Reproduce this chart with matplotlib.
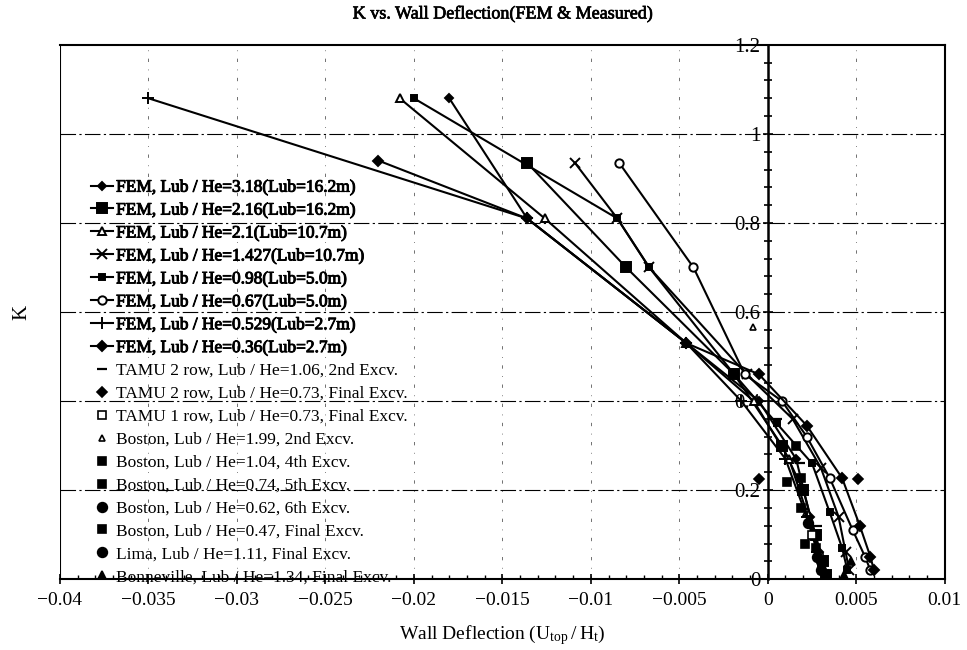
import matplotlib
matplotlib.use("Agg")
import matplotlib.pyplot as plt
import matplotlib.patheffects as pe
from matplotlib.ticker import MultipleLocator, FuncFormatter

plt.rcParams["font.family"] = ["Liberation Serif", "DejaVu Serif"]
plt.rcParams["mathtext.fontset"] = "custom"
plt.rcParams["mathtext.rm"] = "Liberation Serif"

# FEM curves: wall deflection (U_top/H_t) vs K
fem_318_x = [-0.018, -0.0136, -0.0046, -0.0005, 0.0016, 0.0024, 0.0029, 0.0031]
fem_318_k = [1.08, 0.81, 0.53, 0.40, 0.27, 0.14, 0.06, 0.015]
fem_216_x = [-0.0136, -0.008, -0.0019, 0.0008, 0.002, 0.0027, 0.0031, 0.0033]
fem_216_k = [0.935, 0.70, 0.46, 0.30, 0.20, 0.10, 0.04, 0.01]
fem_21_x = [-0.0208, -0.0126, -0.0046, -0.0008, 0.0012, 0.0022, 0.0028, 0.0031]
fem_21_k = [1.08, 0.81, 0.53, 0.40, 0.27, 0.15, 0.07, 0.02]
fem_1427_x = [-0.0109, -0.0085, -0.0067, -0.0012, 0.0014, 0.003, 0.0040, 0.0044, 0.0046]
fem_1427_k = [0.935, 0.81, 0.70, 0.46, 0.36, 0.25, 0.14, 0.06, 0.02]
fem_098_x = [-0.02, -0.0085, -0.0067, -0.0019, 0.0005, 0.0025, 0.0035, 0.0042, 0.0045]
fem_098_k = [1.08, 0.81, 0.70, 0.46, 0.35, 0.26, 0.15, 0.07, 0.02]
fem_067_x = [-0.0084, -0.0042, -0.0013, 0.0008, 0.0022, 0.0035, 0.0048, 0.0055, 0.0058]
fem_067_k = [0.935, 0.70, 0.46, 0.40, 0.32, 0.227, 0.11, 0.05, 0.02]
fem_0529_x = [-0.035, -0.0136, -0.0046, -0.0015, 0.001, 0.0022, 0.0028, 0.0031]
fem_0529_k = [1.08, 0.81, 0.53, 0.40, 0.27, 0.14, 0.06, 0.02]
fem_036_x = [-0.022, -0.0136, -0.0046, -0.0005, 0.0022, 0.0042, 0.0052, 0.0058, 0.006]
fem_036_k = [0.94, 0.81, 0.53, 0.46, 0.345, 0.227, 0.12, 0.05, 0.02]

fem_x = [fem_318_x, fem_216_x, fem_21_x, fem_1427_x, fem_098_x, fem_067_x, fem_0529_x, fem_036_x]
fem_k = [fem_318_k, fem_216_k, fem_21_k, fem_1427_k, fem_098_k, fem_067_k, fem_0529_k, fem_036_k]
fem_labels = [
    "FEM, Lub / He=3.18(Lub=16.2m)",
    "FEM, Lub / He=2.16(Lub=16.2m)",
    "FEM, Lub / He=2.1(Lub=10.7m)",
    "FEM, Lub / He=1.427(Lub=10.7m)",
    "FEM, Lub / He=0.98(Lub=5.0m)",
    "FEM, Lub / He=0.67(Lub=5.0m)",
    "FEM, Lub / He=0.529(Lub=2.7m)",
    "FEM, Lub / He=0.36(Lub=2.7m)",
]

# measured cases
meas_x = [
    [0.0005, 0.0018, 0.0028],
    [-0.0005, 0.0051],
    [0.0025, 0.0029],
    [-0.00085],
    [0.0011, 0.0021],
    [0.0019, 0.0016],
    [0.0023, 0.0030],
    [0.0019, 0.0027],
    [0.0030, 0.0028],
    [0.0043, 0.0047],
]
meas_k = [
    [0.36, 0.26, 0.12],
    [0.225, 0.225],
    [0.10, 0.05],
    [0.566],
    [0.218, 0.08],
    [0.227, 0.30],
    [0.126, 0.04],
    [0.16, 0.07],
    [0.02, 0.05],
    [0.01, 0.04],
]
meas_labels = [
    "TAMU 2 row, Lub / He=1.06, 2nd Excv.",
    "TAMU 2 row, Lub / He=0.73, Final Excv.",
    "TAMU 1 row, Lub / He=0.73, Final Excv.",
    "Boston, Lub / He=1.99, 2nd Excv.",
    "Boston, Lub / He=1.04, 4th Excv.",
    "Boston, Lub / He=0.74, 5th Excv.",
    "Boston, Lub / He=0.62, 6th Excv.",
    "Boston, Lub / He=0.47, Final Excv.",
    "Lima, Lub / He=1.11, Final Excv.",
    "Bonneville, Lub / He=1.34, Final Excv.",
]

# marker styles (marker, size, filled)
fem_styles = [("D", 4.5, True), ("s", 7, True), ("^", 6, False), ("x", 7, True),
              ("s", 5, True), ("o", 6, False), ("+", 9, True), ("D", 5.5, True)]
meas_styles = [("_", 7, True), ("D", 5, True), ("s", 6, False), ("^", 5, False),
               ("s", 6, True), ("s", 6, True), ("o", 7, True), ("s", 6, True),
               ("o", 7, True), ("^", 6, True)]

fig = plt.figure(figsize=(9.67, 6.5), dpi=100)
ax = fig.add_axes([0.062, 0.109, 0.915, 0.822])

for xs, ks, lab, (m, s, f) in zip(fem_x, fem_k, fem_labels, fem_styles):
    ax.plot(xs, ks, color="black", lw=1.5, marker=m, ms=s, mew=1.4,
            mfc="black" if f else "white", mec="black", label=lab)

for xs, ks, lab, (m, s, f) in zip(meas_x, meas_k, meas_labels, meas_styles):
    ax.plot(xs, ks, ls="none", marker=m, ms=s, mew=1.6 if m == "_" else 1.2,
            mfc="black" if f else "white", mec="black", label=lab)

ax.set_xlim(-0.04, 0.01)
ax.set_ylim(0, 1.2)

# grid
for yv in [0.2, 0.4, 0.6, 0.8, 1.0]:
    ax.axhline(yv, color="black", lw=0.8, ls=(0, (14, 3, 2, 3)), zorder=0)
for xv in [-0.035, -0.03, -0.025, -0.02, -0.015, -0.01, -0.005, 0.005]:
    ax.axvline(xv, color="0.35", lw=0.6, ls=(0, (4, 9, 1, 9)), zorder=0)

# y axis drawn at x = 0, box kept around the plot
ax.spines["left"].set_position(("data", 0))
ax.spines["left"].set_linewidth(1.8)
ax.axvline(-0.04, color="black", lw=1.5, zorder=1)
for sp in ["top", "right", "bottom"]:
    ax.spines[sp].set_linewidth(1.5)

ax.xaxis.set_major_locator(MultipleLocator(0.005))
ax.xaxis.set_minor_locator(MultipleLocator(0.001))
ax.yaxis.set_major_locator(MultipleLocator(0.2))
ax.yaxis.set_minor_locator(MultipleLocator(0.04))
fmt = FuncFormatter(lambda v, p: "0" if abs(v) < 1e-9 else ("%g" % v).replace("-", "\u2212"))
ax.xaxis.set_major_formatter(fmt)
ax.yaxis.set_major_formatter(fmt)
ax.tick_params(axis="x", which="major", direction="inout", length=7, width=1.2, labelsize=14, pad=6)
ax.tick_params(axis="x", which="minor", direction="in", length=3, width=1)
ax.tick_params(axis="y", which="major", direction="inout", length=7, width=1.2, labelsize=15, pad=2)
ax.tick_params(axis="y", which="minor", direction="inout", length=6, width=1.2)

ax.set_xlabel(r"Wall Deflection ($\mathregular{U_{top}\,/\,H_t}$)", fontsize=14, labelpad=10)
ax.set_ylabel("K", fontsize=15)
ax.yaxis.set_label_coords(-0.032, 0.5)
ax.set_title("K vs. Wall Deflection(FEM & Measured)", fontsize=13, pad=19,
             path_effects=[pe.withStroke(linewidth=0.5, foreground="black")])

leg = ax.legend(loc="upper left", bbox_to_anchor=(0.035, 0.748), frameon=False,
                fontsize=12.5, handlelength=1.3, handletextpad=0.15, labelspacing=0.39,
                borderaxespad=0, borderpad=0)
for t in leg.get_texts()[:8]:
    t.set_path_effects([pe.withStroke(linewidth=0.7, foreground="black")])

fig.savefig("out.png", dpi=100)
